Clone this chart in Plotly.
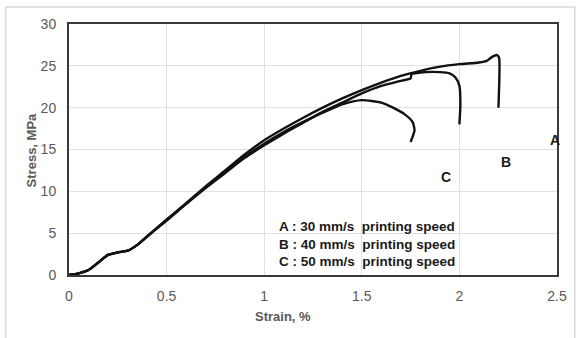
import plotly.graph_objects as go

# Stress-strain curves for three printing speeds
strain_a = [0, 0.05, 0.1, 0.15, 0.2, 0.25, 0.3, 0.35, 0.4, 0.5, 0.6, 0.7, 0.8, 0.9,
            1.0, 1.1, 1.2, 1.3, 1.4, 1.5, 1.6, 1.7, 1.8, 1.9, 2.0, 2.1, 2.14, 2.17,
            2.19, 2.203, 2.205, 2.2]
stress_a = [0, 0.2, 0.6, 1.5, 2.4, 2.7, 2.9, 3.6, 4.6, 6.6, 8.6, 10.6, 12.5, 14.4,
            16.1, 17.5, 18.8, 20.0, 21.1, 22.1, 23.0, 23.8, 24.4, 24.9, 25.2, 25.4, 25.6, 26.1,
            26.3, 26.0, 24.0, 20.0]

strain_b = [0, 0.05, 0.1, 0.15, 0.2, 0.25, 0.3, 0.35, 0.4, 0.5, 0.6, 0.7, 0.8, 0.9,
            1.0, 1.1, 1.2, 1.3, 1.4, 1.5, 1.6, 1.7, 1.75, 1.755, 1.8, 1.9, 1.95, 1.98,
            2.0, 2.005, 2.0]
stress_b = [0, 0.2, 0.6, 1.5, 2.4, 2.7, 2.9, 3.6, 4.6, 6.5, 8.5, 10.4, 12.2, 14.0,
            15.5, 16.9, 18.2, 19.5, 20.6, 21.7, 22.6, 23.2, 23.5, 24.0, 24.2, 24.25, 24.1, 23.6,
            22.6, 20.5, 18.0]

strain_c = [0, 0.05, 0.1, 0.15, 0.2, 0.25, 0.3, 0.35, 0.4, 0.5, 0.6, 0.7, 0.8, 0.9,
            1.0, 1.1, 1.2, 1.3, 1.4, 1.5, 1.6, 1.66, 1.72, 1.76, 1.77, 1.76, 1.75]
stress_c = [0, 0.2, 0.6, 1.5, 2.4, 2.7, 2.9, 3.6, 4.6, 6.6, 8.5, 10.5, 12.3, 14.1,
            15.7, 17.1, 18.3, 19.4, 20.4, 20.9, 20.6, 20.0, 19.2, 18.3, 17.3, 16.5, 15.9]

curve_labels = ["A", "B", "C"]
label_x = [2.49, 2.24, 1.93]
label_y = [16.1, 13.5, 11.7]

legend_lines = ["A : 30 mm/s  printing speed",
                "B : 40 mm/s  printing speed",
                "C : 50 mm/s  printing speed"]

x_ticks = [0, 0.5, 1, 1.5, 2, 2.5]
x_tick_text = ["0", "0.5", "1", "1.5", "2", "2.5"]
y_ticks = [0, 5, 10, 15, 20, 25, 30]

fig = go.Figure()
for sx, sy, name in [(strain_a, stress_a, "A"), (strain_b, stress_b, "B"),
                     (strain_c, stress_c, "C")]:
    fig.add_trace(go.Scatter(x=sx, y=sy, mode="lines", name=name,
                             line=dict(color="#111111", width=2.4, shape="spline",
                                       smoothing=0.6),
                             showlegend=False))

gray = "#595959"
tick_font = dict(family="Arial, Liberation Sans, sans-serif", size=14, color=gray)

fig.update_layout(
    width=579, height=338,
    margin=dict(l=69, r=17, t=24, b=63),
    paper_bgcolor="white", plot_bgcolor="white",
    xaxis=dict(range=[0, 2.5], tickvals=x_ticks, ticktext=x_tick_text,
               showgrid=True, gridcolor="#e0e0e0", gridwidth=1, zeroline=False,
               showline=True, mirror=True, linecolor="#3a3a3a", linewidth=2,
               ticks="", tickfont=tick_font, ticklabelstandoff=7),
    yaxis=dict(range=[0, 30], tickvals=y_ticks,
               showgrid=True, gridcolor="#e0e0e0", gridwidth=1, zeroline=False,
               showline=True, mirror=True, linecolor="#3a3a3a", linewidth=2,
               ticks="", tickfont=tick_font, ticklabelstandoff=8),
)

annotations = []
for lab, lx, ly in zip(curve_labels, label_x, label_y):
    annotations.append(dict(x=lx, y=ly, xref="x", yref="y", text="<b>%s</b>" % lab,
                            showarrow=False,
                            font=dict(family="Arial, Liberation Sans", size=14,
                                      color="#1a1a1a")))

# speed key, one multi-line text block
annotations.append(dict(x=(279 - 69) / 493, y=(275 - 244) / 251, xref="paper",
                        yref="paper",
                        text="<br>".join("<b>%s</b>" % s for s in legend_lines),
                        showarrow=False, align="left",
                        xanchor="left", yanchor="middle",
                        font=dict(family="Arial, Liberation Sans", size=13.5,
                                  color="#1a1a1a")))

annotations.append(dict(x=(285 - 69) / 493, y=(275 - 316) / 251, xref="paper",
                        yref="paper", text="<b>Strain, %</b>", showarrow=False,
                        xanchor="center", yanchor="middle",
                        font=dict(family="Arial, Liberation Sans", size=13, color=gray)))
annotations.append(dict(x=(31 - 69) / 493, y=(275 - 150) / 251, xref="paper",
                        yref="paper", text="<b>Stress, MPa</b>", showarrow=False,
                        textangle=-90, xanchor="center", yanchor="middle",
                        font=dict(family="Arial, Liberation Sans", size=13, color=gray)))
fig.update_layout(annotations=annotations)

# light chart-area border
fig.add_shape(type="rect", xref="paper", yref="paper",
              x0=(5 - 69) / 493, x1=(580 - 69) / 493,
              y0=(275 - 340) / 251, y1=(275 - 7) / 251,
              line=dict(color="#d9d9d9", width=1.5), layer="below")

fig.write_html("out.html")
